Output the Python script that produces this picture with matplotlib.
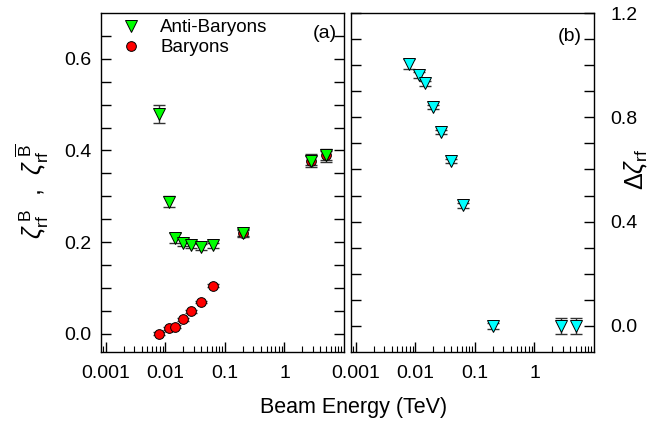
import matplotlib
matplotlib.use("Agg")
import matplotlib.pyplot as plt
from matplotlib.ticker import FixedLocator, LogLocator, NullFormatter

plt.rcParams["font.family"] = ["Liberation Sans", "DejaVu Sans"]
plt.rcParams["mathtext.fontset"] = "custom"
plt.rcParams["mathtext.rm"] = "Liberation Sans"
plt.rcParams["mathtext.it"] = "Liberation Sans:italic"

# beam energies (TeV)
energy = [0.0077, 0.0115, 0.0145, 0.0196, 0.027, 0.039, 0.0624, 0.2, 2.76, 5.02]

anti_baryons = [0.480, 0.288, 0.209, 0.199, 0.193, 0.189, 0.193, 0.220, 0.378, 0.389]
anti_err = [0.020, 0.012, 0.010, 0.007, 0.006, 0.006, 0.006, 0.008, 0.015, 0.014]

baryons = [0.000, 0.012, 0.015, 0.031, 0.049, 0.069, 0.105, 0.220, 0.378, 0.389]
baryon_err = [0.003, 0.003, 0.003, 0.003, 0.003, 0.003, 0.004, 0.006, 0.010, 0.010]

delta_zeta = [1.003, 0.962, 0.931, 0.840, 0.745, 0.632, 0.462, 0.000, 0.000, 0.000]
delta_err = [0.019, 0.012, 0.010, 0.008, 0.008, 0.008, 0.009, 0.012, 0.030, 0.030]

FS = 14
ERR_COLOR = "#333333"

fig = plt.figure(figsize=(6.54, 4.25), dpi=100)
ax1 = fig.add_axes([101 / 654, 1 - 352 / 425, 243 / 654, 339 / 425])
ax2 = fig.add_axes([351 / 654, 1 - 352 / 425, 243 / 654, 339 / 425])

# panel (a)
ax1.errorbar(energy, baryons, yerr=baryon_err, fmt="none", ecolor=ERR_COLOR,
             elinewidth=1, capsize=4, zorder=2)
ax1.plot(energy, baryons, "o", color="#ff0000", mec="black", mew=0.7, ms=7,
         label="Baryons", zorder=3)
ax1.errorbar(energy, anti_baryons, yerr=anti_err, fmt="none", ecolor=ERR_COLOR,
             elinewidth=1, capsize=4.5, zorder=4)
ax1.plot(energy, anti_baryons, "v", color="#00ff00", mec="black", mew=0.7, ms=8,
         label="Anti-Baryons", zorder=5)

ax1.set_xscale("log")
ax1.set_xlim(0.00083, 10)
ax1.set_ylim(-0.04, 0.70)
ax1.yaxis.set_major_locator(FixedLocator([0.0, 0.2, 0.4, 0.6]))
ax1.yaxis.set_minor_locator(FixedLocator([i * 0.05 for i in range(14)]))
ax1.set_yticklabels(["0.0", "0.2", "0.4", "0.6"])
ax1.tick_params(axis="y", which="both", direction="in", length=7, width=1,
                left=True, right=True, labelsize=FS, pad=7)

handles, labels = ax1.get_legend_handles_labels()
ax1.legend(handles[::-1], labels[::-1], loc="upper left", frameon=False,
           fontsize=13.5, handletextpad=0.8, handlelength=1.5,
           borderaxespad=0.2, labelspacing=0.15, bbox_to_anchor=(0.02, 1.015))
ax1.text(0.97, 0.94, "(a)", transform=ax1.transAxes, ha="right", va="center",
         fontsize=FS)

# panel (b)
ax2.errorbar(energy, delta_zeta, yerr=delta_err, fmt="none", ecolor=ERR_COLOR,
             elinewidth=1, capsize=4.5, zorder=2)
ax2.plot(energy, delta_zeta, "v", color="#00ffff", mec="black", mew=0.7, ms=8,
         zorder=3)

ax2.set_xscale("log")
ax2.set_xlim(0.00083, 10)
ax2.set_ylim(-0.1, 1.2)
ax2.yaxis.set_major_locator(FixedLocator([0.0, 0.4, 0.8, 1.2]))
ax2.yaxis.set_minor_locator(FixedLocator([i * 0.1 for i in range(13)]))
ax2.set_yticklabels(["0.0", "0.4", "0.8", "1.2"])
ax2.tick_params(axis="y", which="both", direction="in", length=7, width=1,
                left=True, right=True, labelleft=False, labelright=True,
                labelsize=FS, pad=12)
ax2.text(0.95, 0.93, "(b)", transform=ax2.transAxes, ha="right", va="center",
         fontsize=FS)

for ax in (ax1, ax2):
    ax.xaxis.set_major_locator(LogLocator(base=10, numticks=10))
    ax.xaxis.set_minor_locator(LogLocator(base=10, subs=range(2, 10), numticks=20))
    ax.xaxis.set_minor_formatter(NullFormatter())
    ax.set_xticks([0.001, 0.01, 0.1, 1])
    ax.set_xticklabels(["0.001", "0.01", "0.1", "1"])
    ax.tick_params(axis="x", which="major", direction="in", length=7, width=1,
                   labelsize=FS, pad=9)
    ax.tick_params(axis="x", which="minor", direction="in", length=4, width=0.8)
    for sp in ax.spines.values():
        sp.set_linewidth(1)

fig.text(32 / 654, 1 - 191 / 425,
         r"$\zeta_{\mathrm{rf}}^{\;\mathrm{B}}$  ,  $\zeta_{\mathrm{rf}}^{\;\overline{\mathrm{B}}}$",
         rotation=90, ha="center", va="center", fontsize=18)
fig.text(636 / 654, 1 - 170 / 425, r"$\Delta\zeta_{\mathrm{rf}}$",
         rotation=90, ha="center", va="center", fontsize=18)
fig.text(354 / 654, 1 - 408 / 425, "Beam Energy (TeV)", ha="center",
         va="center", fontsize=15.5)

fig.savefig("out.png", dpi=100)
